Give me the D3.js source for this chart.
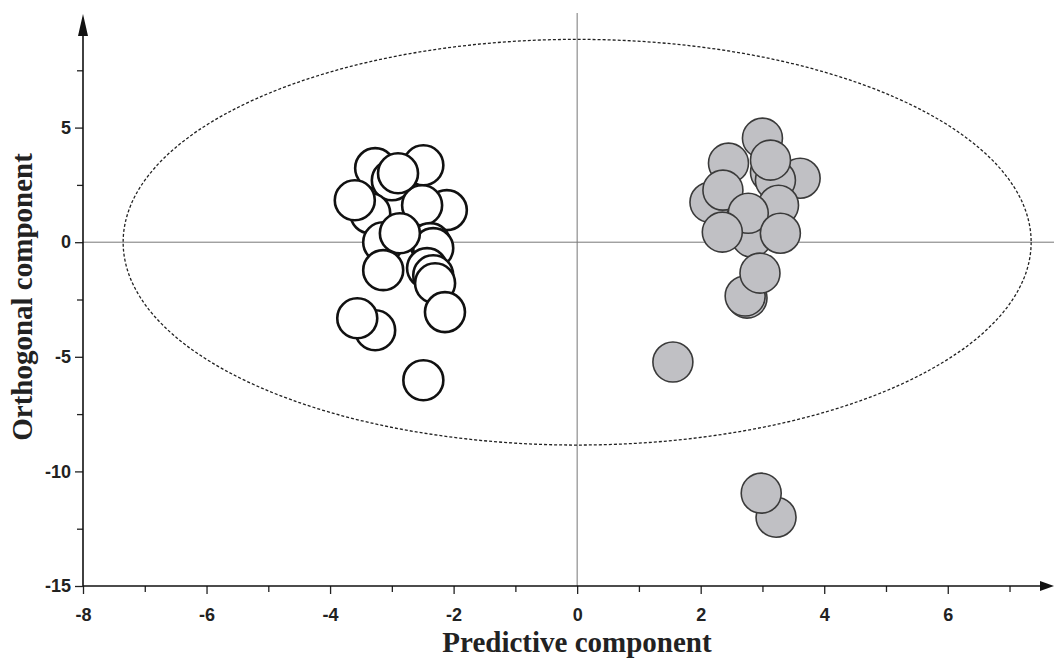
<!DOCTYPE html>
<html>
<head>
<meta charset="utf-8">
<script src="https://cdn.jsdelivr.net/npm/d3@7"></script>
<style>
  body { margin: 0; background: #fff; }
  svg { display: block; }
</style>
</head>
<body>
<svg id="chart" width="1054" height="660"></svg>
<script>
// score values (predictive, orthogonal)
var whiteX = [-3.27, -3.0, -2.49, -3.35, -3.60, -2.11, -2.51, -2.90, -3.14, -2.38, -2.33, -2.87, -3.14, -2.43, -2.33, -2.30, -2.14, -3.27, -3.56, -2.49];
var whiteY = [3.23, 2.7, 3.36, 1.26, 1.83, 1.40, 1.61, 3.01, 0.0, -0.04, -0.26, 0.39, -1.22, -1.13, -1.44, -1.79, -3.05, -3.84, -3.32, -6.02];

var grayX = [3.00, 2.45, 3.61, 3.13, 3.21, 3.13, 2.15, 2.36, 3.26, 2.83, 2.77, 2.35, 3.29, 2.75, 2.72, 2.96, 1.55, 3.22, 2.98];
var grayY = [4.54, 3.45, 2.79, 3.05, 2.70, 3.58, 1.74, 2.27, 1.61, 0.22, 1.26, 0.44, 0.39, -2.44, -2.35, -1.35, -5.23, -12.0, -10.95];

var xTicks = [-8, -7, -6, -5, -4, -3, -2, -1, 0, 1, 2, 3, 4, 5, 6, 7];
var xLabels = [-8, -6, -4, -2, 0, 2, 4, 6];
var yTicks = [-15, -12.5, -10, -7.5, -5, -2.5, 0, 2.5, 5, 7.5];
var yLabels = [-15, -10, -5, 0, 5];

// Hotelling T2 ellipse radii
var ellipseR = [7.35, 8.85];

var svg = d3.select("#chart");

var x = d3.scaleLinear().domain([-8, 7.72]).range([83, 1054]);
var y = d3.scaleLinear().domain([-15, 10]).range([586, 13]);

// zero lines
svg.append("line")
  .attr("x1", x(0)).attr("x2", x(0))
  .attr("y1", y(10)).attr("y2", y(-15))
  .attr("stroke", "#777").attr("stroke-width", 1);
svg.append("line")
  .attr("x1", x(-8)).attr("x2", 1054)
  .attr("y1", y(0)).attr("y2", y(0))
  .attr("stroke", "#777").attr("stroke-width", 1);

// ellipse
svg.append("ellipse")
  .attr("cx", x(0)).attr("cy", y(0))
  .attr("rx", x(ellipseR[0]) - x(0))
  .attr("ry", y(0) - y(ellipseR[1]))
  .attr("fill", "none")
  .attr("stroke", "#222")
  .attr("stroke-width", 1.3)
  .attr("stroke-dasharray", "3,2");

// axes
var tickFont = "'Liberation Sans', Arial, sans-serif";
var xAxis = d3.axisBottom(x).tickValues(xTicks).tickSize(8)
  .tickFormat(function(d){ return xLabels.indexOf(d) >= 0 ? d : ""; });
var gx = svg.append("g").attr("transform", "translate(0," + y(-15) + ")").call(xAxis);
gx.select(".domain").remove();
gx.selectAll(".tick line")
  .attr("y2", function(d){ return xLabels.indexOf(d) >= 0 ? 8 : 6; })
  .attr("stroke", "#222").attr("stroke-width", 1.3);
gx.selectAll(".tick text")
  .attr("y", 22)
  .attr("font-family", tickFont)
  .attr("font-weight", "bold")
  .attr("font-size", 18)
  .attr("fill", "#222");

var yAxis = d3.axisLeft(y).tickValues(yTicks).tickSize(8)
  .tickFormat(function(d){ return yLabels.indexOf(d) >= 0 ? d : ""; });
var gy = svg.append("g").attr("transform", "translate(" + x(-8) + ",0)").call(yAxis);
gy.select(".domain").remove();
gy.selectAll(".tick line")
  .attr("x2", function(d){ return yLabels.indexOf(d) >= 0 ? -8 : -6; })
  .attr("stroke", "#222").attr("stroke-width", 1.3);
gy.selectAll(".tick text")
  .attr("x", -12)
  .attr("font-family", tickFont)
  .attr("font-weight", "bold")
  .attr("font-size", 18)
  .attr("fill", "#222");

// axis lines with arrow heads
svg.append("line")
  .attr("x1", x(-8)).attr("x2", 1044)
  .attr("y1", y(-15)).attr("y2", y(-15))
  .attr("stroke", "#111").attr("stroke-width", 1.6);
svg.append("path")
  .attr("d", "M1054," + y(-15) + " L1040," + (y(-15) - 5) + " L1040," + (y(-15) + 5) + " Z")
  .attr("fill", "#111");
svg.append("line")
  .attr("x1", x(-8)).attr("x2", x(-8))
  .attr("y1", y(-15)).attr("y2", 28)
  .attr("stroke", "#111").attr("stroke-width", 1.6);
svg.append("path")
  .attr("d", "M" + x(-8) + ",14 L" + (x(-8) - 5) + ",36 L" + (x(-8) + 5) + ",36 Z")
  .attr("fill", "#111");

// points
var r = 20;
var whitePts = whiteX.map(function(v, i){ return { x: v, y: whiteY[i] }; });
var grayPts = grayX.map(function(v, i){ return { x: v, y: grayY[i] }; });

svg.append("g").selectAll("circle").data(whitePts).enter()
  .append("circle")
  .attr("cx", function(d){ return x(d.x); })
  .attr("cy", function(d){ return y(d.y); })
  .attr("r", r)
  .attr("fill", "#fff")
  .attr("stroke", "#111")
  .attr("stroke-width", 2.6);

svg.append("g").selectAll("circle").data(grayPts).enter()
  .append("circle")
  .attr("cx", function(d){ return x(d.x); })
  .attr("cy", function(d){ return y(d.y); })
  .attr("r", r)
  .attr("fill", "#c0c0c4")
  .attr("stroke", "#3a3a3a")
  .attr("stroke-width", 1.6);

// titles
svg.append("text")
  .attr("x", 577).attr("y", 652)
  .attr("text-anchor", "middle")
  .attr("font-family", "'Liberation Serif', 'Times New Roman', serif")
  .attr("font-weight", "bold")
  .attr("font-size", 29)
  .attr("fill", "#222")
  .text("Predictive component");

svg.append("text")
  .attr("transform", "translate(32,297) rotate(-90)")
  .attr("text-anchor", "middle")
  .attr("font-family", "'Liberation Serif', 'Times New Roman', serif")
  .attr("font-weight", "bold")
  .attr("font-size", 29)
  .attr("fill", "#222")
  .text("Orthogonal component");
</script>
</body>
</html>
